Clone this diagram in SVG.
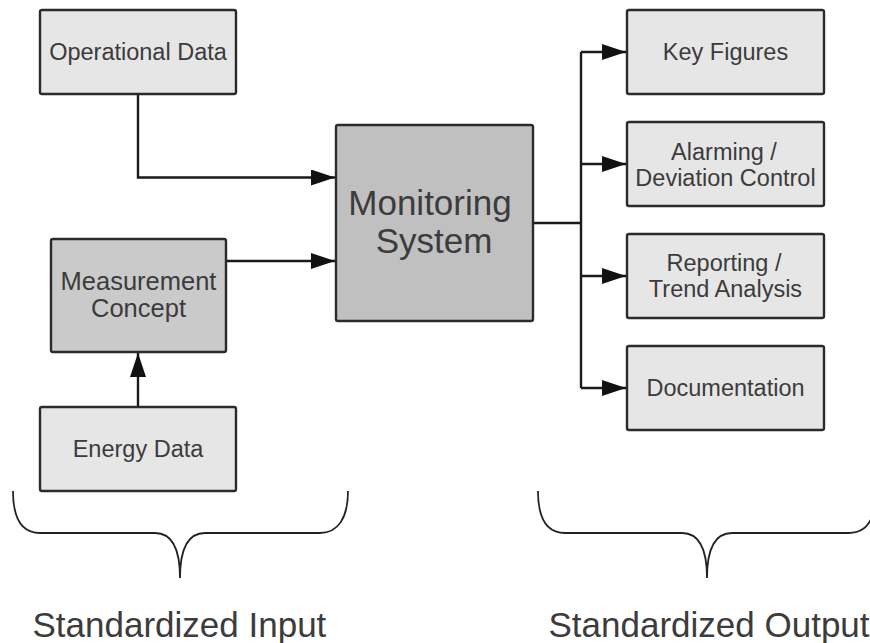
<svg xmlns="http://www.w3.org/2000/svg" width="870" height="643" viewBox="0 0 870 643">
  <defs>
    <marker id="arrow" markerWidth="24" markerHeight="16" refX="24" refY="8" orient="auto" markerUnits="userSpaceOnUse">
      <path d="M0,0 L24,8 L0,16 Z" fill="#111"/>
    </marker>
    <style>
      .box { stroke: #2b2b2b; stroke-width: 2.4; }
      .light { fill: #e6e6e6; }
      .mid { fill: #cacaca; }
      .dark { fill: #c0c0c0; }
      .label { font-family: "Liberation Sans", Arial, sans-serif; fill: #3c3c3c; text-anchor: middle; }
      .small { font-size: 23.5px; }
      .conn { fill: none; stroke: #1a1a1a; stroke-width: 2.4; }
      .brace { fill: none; stroke: #222; stroke-width: 1.8; }
      .caption { font-family: "Liberation Sans", Arial, sans-serif; font-size: 35px; fill: #3c3c3c; }
    </style>
  </defs>

  <rect width="870" height="643" fill="#fff"/>

  <!-- connectors -->
  <g id="connectors">
    <path class="conn" d="M138,94 V177.5 H335" marker-end="url(#arrow)"/>
    <path class="conn" d="M226,261 H335" marker-end="url(#arrow)"/>
    <path class="conn" d="M138,407 V353" marker-end="url(#arrow)"/>
    <path class="conn" d="M533,223 H581"/>
    <path class="conn" d="M581,52 V388"/>
    <path class="conn" d="M581,52 H626" marker-end="url(#arrow)"/>
    <path class="conn" d="M581,164 H626" marker-end="url(#arrow)"/>
    <path class="conn" d="M581,276 H626" marker-end="url(#arrow)"/>
    <path class="conn" d="M581,388 H626" marker-end="url(#arrow)"/>
  </g>

  <!-- input nodes -->
  <g id="operational-data">
    <rect class="box light" x="40" y="10" width="196" height="84" rx="2"/>
    <text class="label small" x="138" y="60">Operational Data</text>
  </g>
  <g id="measurement-concept">
    <rect class="box mid" x="51" y="239" width="175" height="113" rx="2"/>
    <text class="label" font-size="25.5" x="138.5" y="289.5">Measurement</text>
    <text class="label" font-size="25.5" x="138.5" y="317">Concept</text>
  </g>
  <g id="energy-data">
    <rect class="box light" x="40" y="407" width="196" height="84" rx="2"/>
    <text class="label small" x="138" y="457">Energy Data</text>
  </g>

  <!-- central node -->
  <g id="monitoring-system">
    <rect class="box dark" x="336" y="125" width="197" height="196" rx="2"/>
    <text class="label" font-size="35" x="430" y="215">Monitoring</text>
    <text class="label" font-size="35" x="434" y="253">System</text>
  </g>

  <!-- output nodes -->
  <g id="key-figures">
    <rect class="box light" x="627" y="10" width="197" height="84" rx="2"/>
    <text class="label small" x="725.5" y="60">Key Figures</text>
  </g>
  <g id="alarming">
    <rect class="box light" x="627" y="122" width="197" height="84" rx="2"/>
    <text class="label small" x="724" y="159.5">Alarming /</text>
    <text class="label small" x="725.5" y="185.5">Deviation Control</text>
  </g>
  <g id="reporting">
    <rect class="box light" x="627" y="234" width="197" height="84" rx="2"/>
    <text class="label small" x="724" y="270.5">Reporting /</text>
    <text class="label small" x="725.5" y="296.5">Trend Analysis</text>
  </g>
  <g id="documentation">
    <rect class="box light" x="627" y="346" width="197" height="84" rx="2"/>
    <text class="label small" x="725.5" y="396">Documentation</text>
  </g>

  <!-- grouping braces and captions -->
  <g id="input-brace">
    <path class="brace" d="M13,491 C13,518 22,533 40,533 L155,533 C171,533 180,548 180,578 C180,548 189,533 205,533 L320,533 C338,533 348,518 348,491"/>
    <text class="caption" x="32.5" y="636.5">Standardized Input</text>
  </g>
  <g id="output-brace">
    <path class="brace" d="M538,491 C538,518 547,533 565,533 L682,533 C698,533 707,548 707,578 C707,548 716,533 732,533 L849,533 C867,533 876,518 876,491"/>
    <text class="caption" x="548.5" y="636.5">Standardized Output</text>
  </g>
</svg>
